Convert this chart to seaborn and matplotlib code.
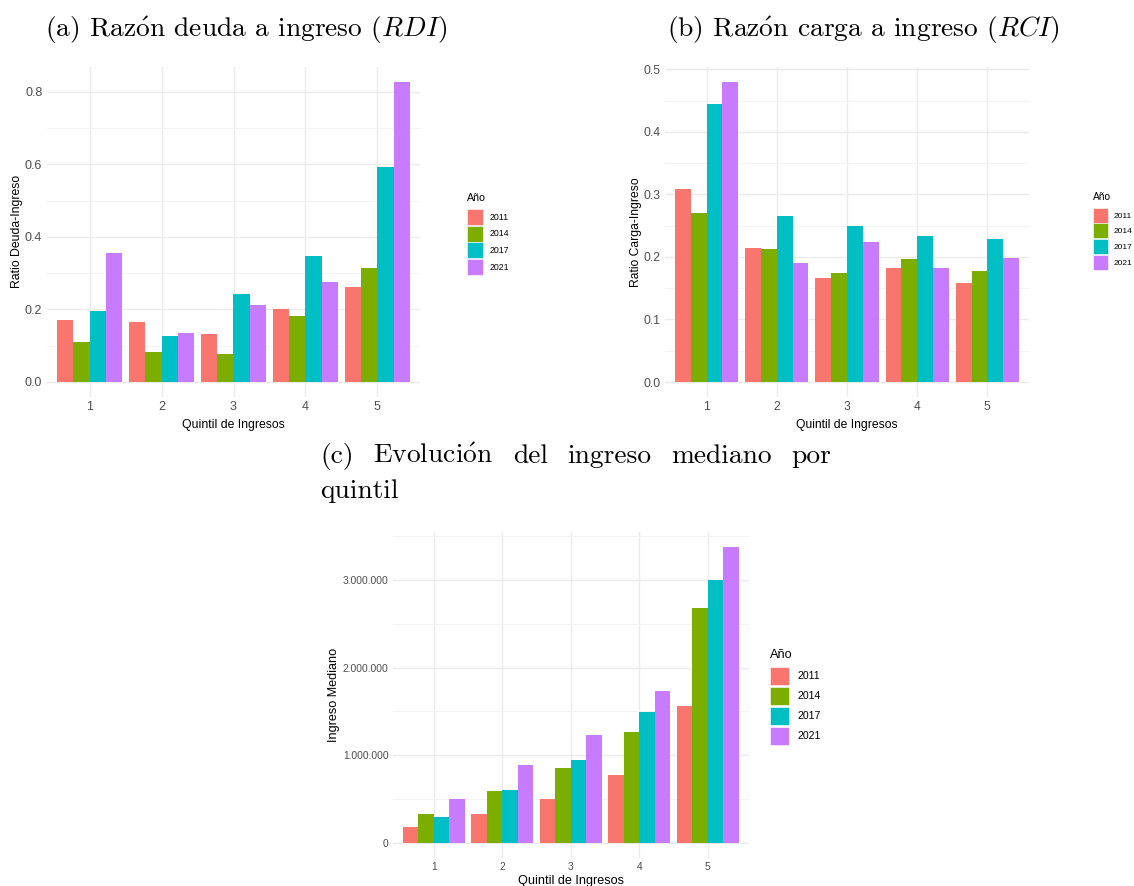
import matplotlib
matplotlib.use("Agg")
import matplotlib.pyplot as plt
from matplotlib.ticker import MultipleLocator, FuncFormatter
import numpy as np
import pandas as pd
import seaborn as sns

# ---------------------------------------------------------------- data
quintiles = ["1", "2", "3", "4", "5"]
years = ["2011", "2014", "2017", "2021"]
colors = ["#F8766D", "#7CAE00", "#00BFC4", "#C77CFF"]

# Razón deuda a ingreso (RDI) por quintil
rdi_2011 = [0.171, 0.164, 0.132, 0.200, 0.263]
rdi_2014 = [0.111, 0.083, 0.077, 0.183, 0.315]
rdi_2017 = [0.196, 0.127, 0.242, 0.347, 0.594]
rdi_2021 = [0.356, 0.136, 0.213, 0.276, 0.828]

# Razón carga a ingreso (RCI) por quintil
rci_2011 = [0.308, 0.215, 0.166, 0.183, 0.158]
rci_2014 = [0.270, 0.213, 0.175, 0.197, 0.178]
rci_2017 = [0.445, 0.265, 0.249, 0.234, 0.229]
rci_2021 = [0.479, 0.191, 0.224, 0.182, 0.199]

# Ingreso mediano por quintil
ing_2011 = [183000, 324000, 499000, 778000, 1567000]
ing_2014 = [324000, 587000, 850000, 1266000, 2680000]
ing_2017 = [297000, 602000, 942000, 1490000, 2996000]
ing_2021 = [496000, 892000, 1235000, 1734000, 3381000]

W, H = 1134, 886

plt.rcParams["font.family"] = ["Liberation Sans", "DejaVu Sans"]
plt.rcParams["mathtext.fontset"] = "cm"

fig = plt.figure(figsize=(W / 100, H / 100), dpi=100)
fig.patch.set_facecolor("white")


def px_axes(x0, y0, x1, y1):
    """Axes from pixel box (left, top, right, bottom)."""
    return fig.add_axes([x0 / W, 1 - y1 / H, (x1 - x0) / W, (y1 - y0) / H])


def long_frame(series):
    rows = []
    for yr, vals in zip(years, series):
        for q, v in zip(quintiles, vals):
            rows.append({"Quintil": q, "Año": yr, "valor": v})
    return pd.DataFrame(rows)


def panel(ax, series, ylabel, major, fmt, tick_fs, lab_fs, xlabpad, ylabpad,
          leg_anchor, leg_fs, leg_title_fs, key_w, key_h, key_gap, text_pad,
          title_gap):
    df = long_frame(series)
    sns.barplot(data=df, x="Quintil", y="valor", hue="Año", order=quintiles,
                hue_order=years, palette=colors, width=0.9, saturation=1,
                linewidth=0, errorbar=None, ax=ax)
    ymax = df["valor"].max()
    ax.set_xlim(-0.6, len(quintiles) - 0.4)
    ax.set_ylim(-0.05 * ymax, 1.05 * ymax)
    for s in ax.spines.values():
        s.set_visible(False)
    ax.set_axisbelow(True)
    ax.yaxis.set_major_locator(MultipleLocator(major))
    ax.yaxis.set_minor_locator(MultipleLocator(major / 2))
    ax.yaxis.set_major_formatter(FuncFormatter(fmt))
    ax.grid(which="major", color="#EBEBEB", lw=1.0)
    ax.grid(which="minor", axis="y", color="#F3F3F3", lw=0.7)
    ax.tick_params(which="both", length=0, labelsize=tick_fs,
                   labelcolor="#4D4D4D", pad=3)
    ax.set_xlabel("Quintil de Ingresos", fontsize=lab_fs, labelpad=xlabpad)
    ax.set_ylabel(ylabel, fontsize=lab_fs, labelpad=ylabpad)

    handles, labels = ax.get_legend_handles_labels()
    ax.get_legend().remove()
    for h in handles:
        h.set_edgecolor("white")
        h.set_linewidth(0.4)
    # legend key geometry, in points
    fs = leg_fs
    kw, kh = key_w * 0.72, key_h * 0.72
    hh = (kh / fs - 0.245) / 0.65
    leg = ax.legend(handles, labels, title="Año", loc="upper left",
                    bbox_to_anchor=(leg_anchor[0] / W, 1 - leg_anchor[1] / H),
                    bbox_transform=fig.transFigure, frameon=False, borderpad=0,
                    fontsize=leg_fs,
                    title_fontproperties={"size": leg_title_fs},
                    handlelength=kw / fs, handleheight=hh,
                    labelspacing=key_gap * 0.72 / fs,
                    handletextpad=text_pad * 0.72 / fs, alignment="left")
    leg._legend_box.sep = title_gap
    return leg


ratio_fmt = lambda v, p: f"{v:.1f}"
peso_fmt = lambda v, p: f"{int(round(v)):,}".replace(",", ".")

ax_a = px_axes(46.5, 66.6, 420.5, 397)
panel(ax_a, [rdi_2011, rdi_2014, rdi_2017, rdi_2021], "Ratio Deuda-Ingreso",
      0.2, ratio_fmt, 9, 8.8, 4, 1.5, (463, 189), 6.3, 7.7, 16, 16, 0.7, 6, 4)

ax_b = px_axes(664.6, 67.5, 1029.4, 397)
panel(ax_b, [rci_2011, rci_2014, rci_2017, rci_2021], "Ratio Carga-Ingreso",
      0.1, ratio_fmt, 8.7, 8.7, 4, 1.0, (1089, 188), 6.0, 7.3, 15, 15, 0.7, 5, 4)

ax_c = px_axes(392.6, 532, 748.8, 857.5)
panel(ax_c, [ing_2011, ing_2014, ing_2017, ing_2021], "Ingreso Mediano",
      1000000, peso_fmt, 7.4, 9.1, 2.5, 2.0, (765, 644), 7.6, 9.2, 18.3, 18.3,
      1.7, 9, 4)

# ---------------------------------------------------------------- titles
title_font = dict(family=["cmr10", "DejaVu Serif"], size=19.8, color="black")
o_acute = r"$\mathrm{\acute{o}}$"
fig.text(45 / W, 1 - 37 / H, f"(a) Raz{o_acute}n deuda a ingreso ($RDI$)",
         ha="left", va="baseline", **title_font)
fig.text(667 / W, 1 - 37 / H, f"(b) Raz{o_acute}n carga a ingreso ($RCI$)",
         ha="left", va="baseline", **title_font)

# justified first line of the (c) caption
words = ["(c)", f"Evoluci{o_acute}n", "del", "ingreso", "mediano", "por"]
line_x0, line_x1 = 320, 831
word_texts = [fig.text(0, 1 - 463 / H, w, ha="left", va="baseline", **title_font)
              for w in words]
fig.canvas.draw()
renderer = fig.canvas.get_renderer()
widths = [t.get_window_extent(renderer).width for t in word_texts]
space = (line_x1 - line_x0 - sum(widths)) / (len(words) - 1)
x = line_x0
for t, w in zip(word_texts, widths):
    t.set_x(x / W)
    x += w + space
fig.text(line_x0 / W, 1 - 498 / H, "quintil", ha="left", va="baseline",
         **title_font)

fig.savefig("out.png", dpi=100, facecolor="white")
